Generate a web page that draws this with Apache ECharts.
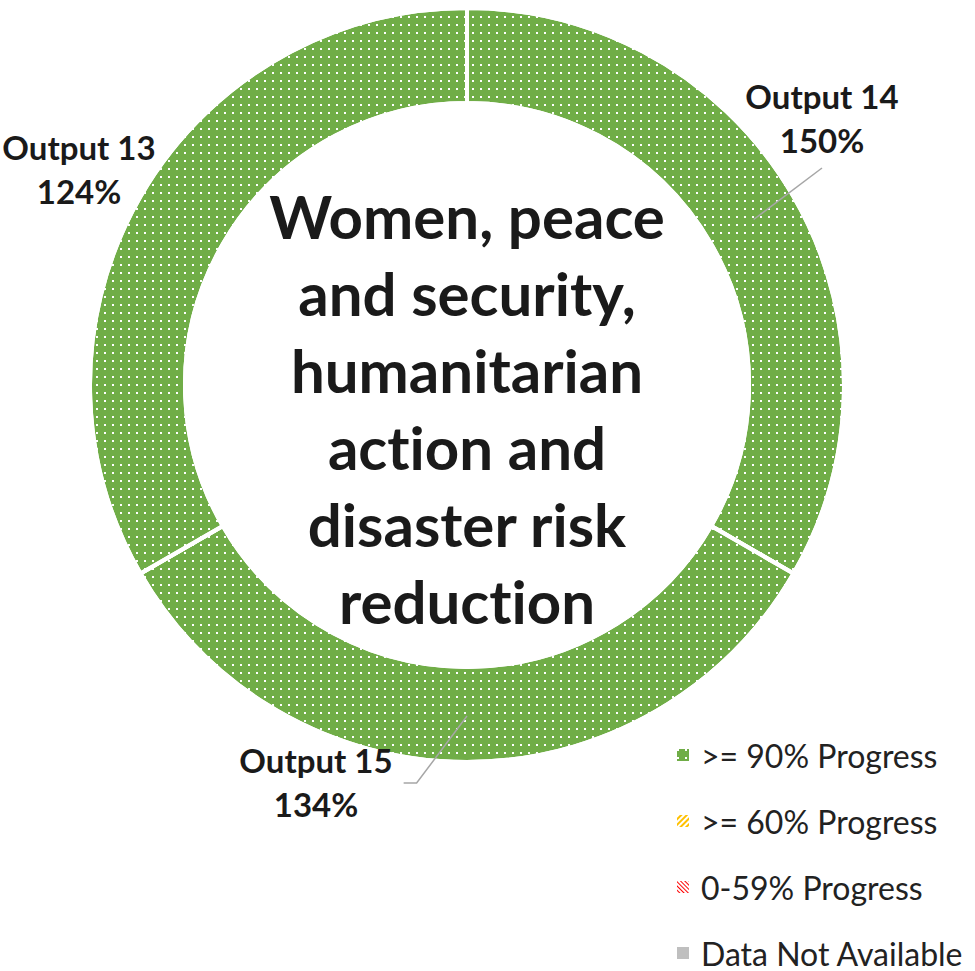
<!DOCTYPE html>
<html>
<head>
<meta charset="utf-8">
<title>Women, peace and security, humanitarian action and disaster risk reduction</title>
<script src="https://cdn.jsdelivr.net/npm/echarts@6/dist/echarts.min.js"></script>
<style>
  html, body { margin: 0; padding: 0; background: #ffffff; }
  #chart { width: 975px; height: 971px; }
  #chart text { font-variant-ligatures: none; }
</style>
</head>
<body>
<div id="chart"></div>
<script>
// Outputs shown around the ring (clockwise from the top) and their progress
const outputs = ['Output 14', 'Output 15', 'Output 13'];
const progress = [150, 134, 124];
// Each output takes an equal share of the ring
const sliceShare = [1, 1, 1];

// Progress bands listed in the key
const progressBands = ['>= 90% Progress', '>= 60% Progress', '0-59% Progress', 'Data Not Available'];

const centerTitle = 'Women, peace\nand security,\nhumanitarian\naction and\ndisaster risk\nreduction';

// Ring geometry (pixels)
const CX = 467, CY = 385;
const R_IN = 282, R_OUT = 377;
const R_MID = 331;

// Where each output label sits, and which labels get a leader line
const labelSpots = [[822, 118], [316, 782], [79, 169]];
const hasLeader = [true, true, false];

const LABEL_FONT = { family: 'Lato', size: 33, weight: 'bold', lineHeight: 44 };

const GREEN = '#70AD47';
const dotted = {
  symbol: 'rect',
  symbolSize: 1,
  dashArrayX: [2, 6],
  dashArrayY: [2, 6],
  color: '#ffffff'
};

const bandStyles = [
  { color: GREEN, decal: dotted },
  { color: '#FFC000', decal: { symbol: 'rect', symbolSize: 1, dashArrayX: [1, 0], dashArrayY: [2, 2], rotation: -Math.PI / 4, color: '#ffffff' } },
  { color: '#ffffff', decal: { symbol: 'rect', symbolSize: 1, dashArrayX: [1, 0], dashArrayY: [1, 2], rotation: Math.PI / 4, color: '#FF0000' } },
  { color: '#BFBFBF' }
];

// Mid-ring point at the middle angle of slice i (angle measured clockwise from the top)
const shareTotal = sliceShare.reduce((a, b) => a + b, 0);
function midRingPoint(i) {
  let before = 0;
  for (let k = 0; k < i; k++) before += sliceShare[k];
  const a = (before + sliceShare[i] / 2) / shareTotal * 2 * Math.PI;
  return [CX + R_MID * Math.sin(a), CY - R_MID * Math.cos(a)];
}

function labelText(i) {
  return outputs[i] + '\n' + progress[i] + '%';
}

// Width of the widest line of a label, measured with the label font
const measureCtx = document.createElement('canvas').getContext('2d');
function labelWidth(i) {
  measureCtx.font = LABEL_FONT.weight + ' ' + LABEL_FONT.size + 'px ' + LABEL_FONT.family;
  return Math.max.apply(null, labelText(i).split('\n').map(s => measureCtx.measureText(s).width));
}

// Leader lines from the middle of each slice to its label
function leaderLines() {
  const lines = [];
  outputs.forEach((name, i) => {
    if (!hasLeader[i]) return;
    const s = midRingPoint(i);
    const spot = labelSpots[i];
    let pts;
    if (spot[1] < s[1]) {
      // label above the slice: run to just under the label's centre
      const e = [spot[0], spot[1] + LABEL_FONT.lineHeight + 6];
      pts = [s, e];
    } else {
      // label below and left: bend, then a short horizontal run to its right side
      const right = spot[0] + labelWidth(i) / 2;
      const y = spot[1] + 1;
      pts = [s, [right + 24, y], [right + 11, y]];
    }
    lines.push({
      type: 'polyline',
      silent: true,
      z: 10,
      shape: { points: pts },
      style: { stroke: '#A6A6A6', lineWidth: 1.5, fill: null }
    });
  });
  return lines;
}

const chart = echarts.init(document.getElementById('chart'), null, { renderer: 'svg' });

const ringData = outputs.map((name, i) => ({
  name: name,
  value: sliceShare[i],
  progress: progress[i]
}));

chart.setOption({
  animation: false,
  backgroundColor: '#ffffff',
  legend: {
    data: progressBands,
    orient: 'vertical',
    left: 677,
    top: 739,
    height: 280,
    padding: 0,
    icon: 'rect',
    itemWidth: 12,
    itemHeight: 12,
    itemGap: 34,
    selectedMode: false,
    textStyle: {
      fontFamily: 'Lato',
      fontSize: 32,
      lineHeight: 32,
      color: '#222222',
      padding: [0, 0, 0, 7]
    }
  },
  graphic: [{
    type: 'text',
    x: CX,
    y: 408,
    style: {
      text: centerTitle,
      fontFamily: 'Lato',
      fontWeight: 'bold',
      fontSize: 60,
      lineHeight: 77,
      fill: '#1a1a1a',
      textAlign: 'center',
      textVerticalAlign: 'middle'
    }
  }].concat(leaderLines()),
  series: [
    {
      name: 'Outputs',
      type: 'pie',
      center: [CX, CY],
      radius: [R_IN, R_OUT],
      startAngle: 90,
      clockwise: true,
      silent: true,
      avoidLabelOverlap: false,
      itemStyle: {
        color: GREEN,
        borderColor: '#ffffff',
        borderWidth: 4,
        decal: dotted
      },
      label: {
        show: true,
        position: 'outside',
        formatter: p => labelText(p.dataIndex),
        fontFamily: LABEL_FONT.family,
        fontWeight: LABEL_FONT.weight,
        fontSize: LABEL_FONT.size,
        lineHeight: LABEL_FONT.lineHeight,
        color: '#1a1a1a',
        align: 'center'
      },
      labelLine: { show: false },
      labelLayout: function (p) {
        const spot = labelSpots[p.dataIndex];
        return { x: spot[0], y: spot[1], align: 'center', verticalAlign: 'middle' };
      },
      emphasis: { disabled: true },
      data: ringData
    },
    {
      name: 'Progress key',
      type: 'pie',
      center: [CX, CY],
      radius: [0, 0],
      silent: true,
      label: { show: false },
      labelLine: { show: false },
      emphasis: { disabled: true },
      data: progressBands.map((name, i) => ({ name: name, value: 1, itemStyle: bandStyles[i] }))
    }
  ]
});
</script>
</body>
</html>
